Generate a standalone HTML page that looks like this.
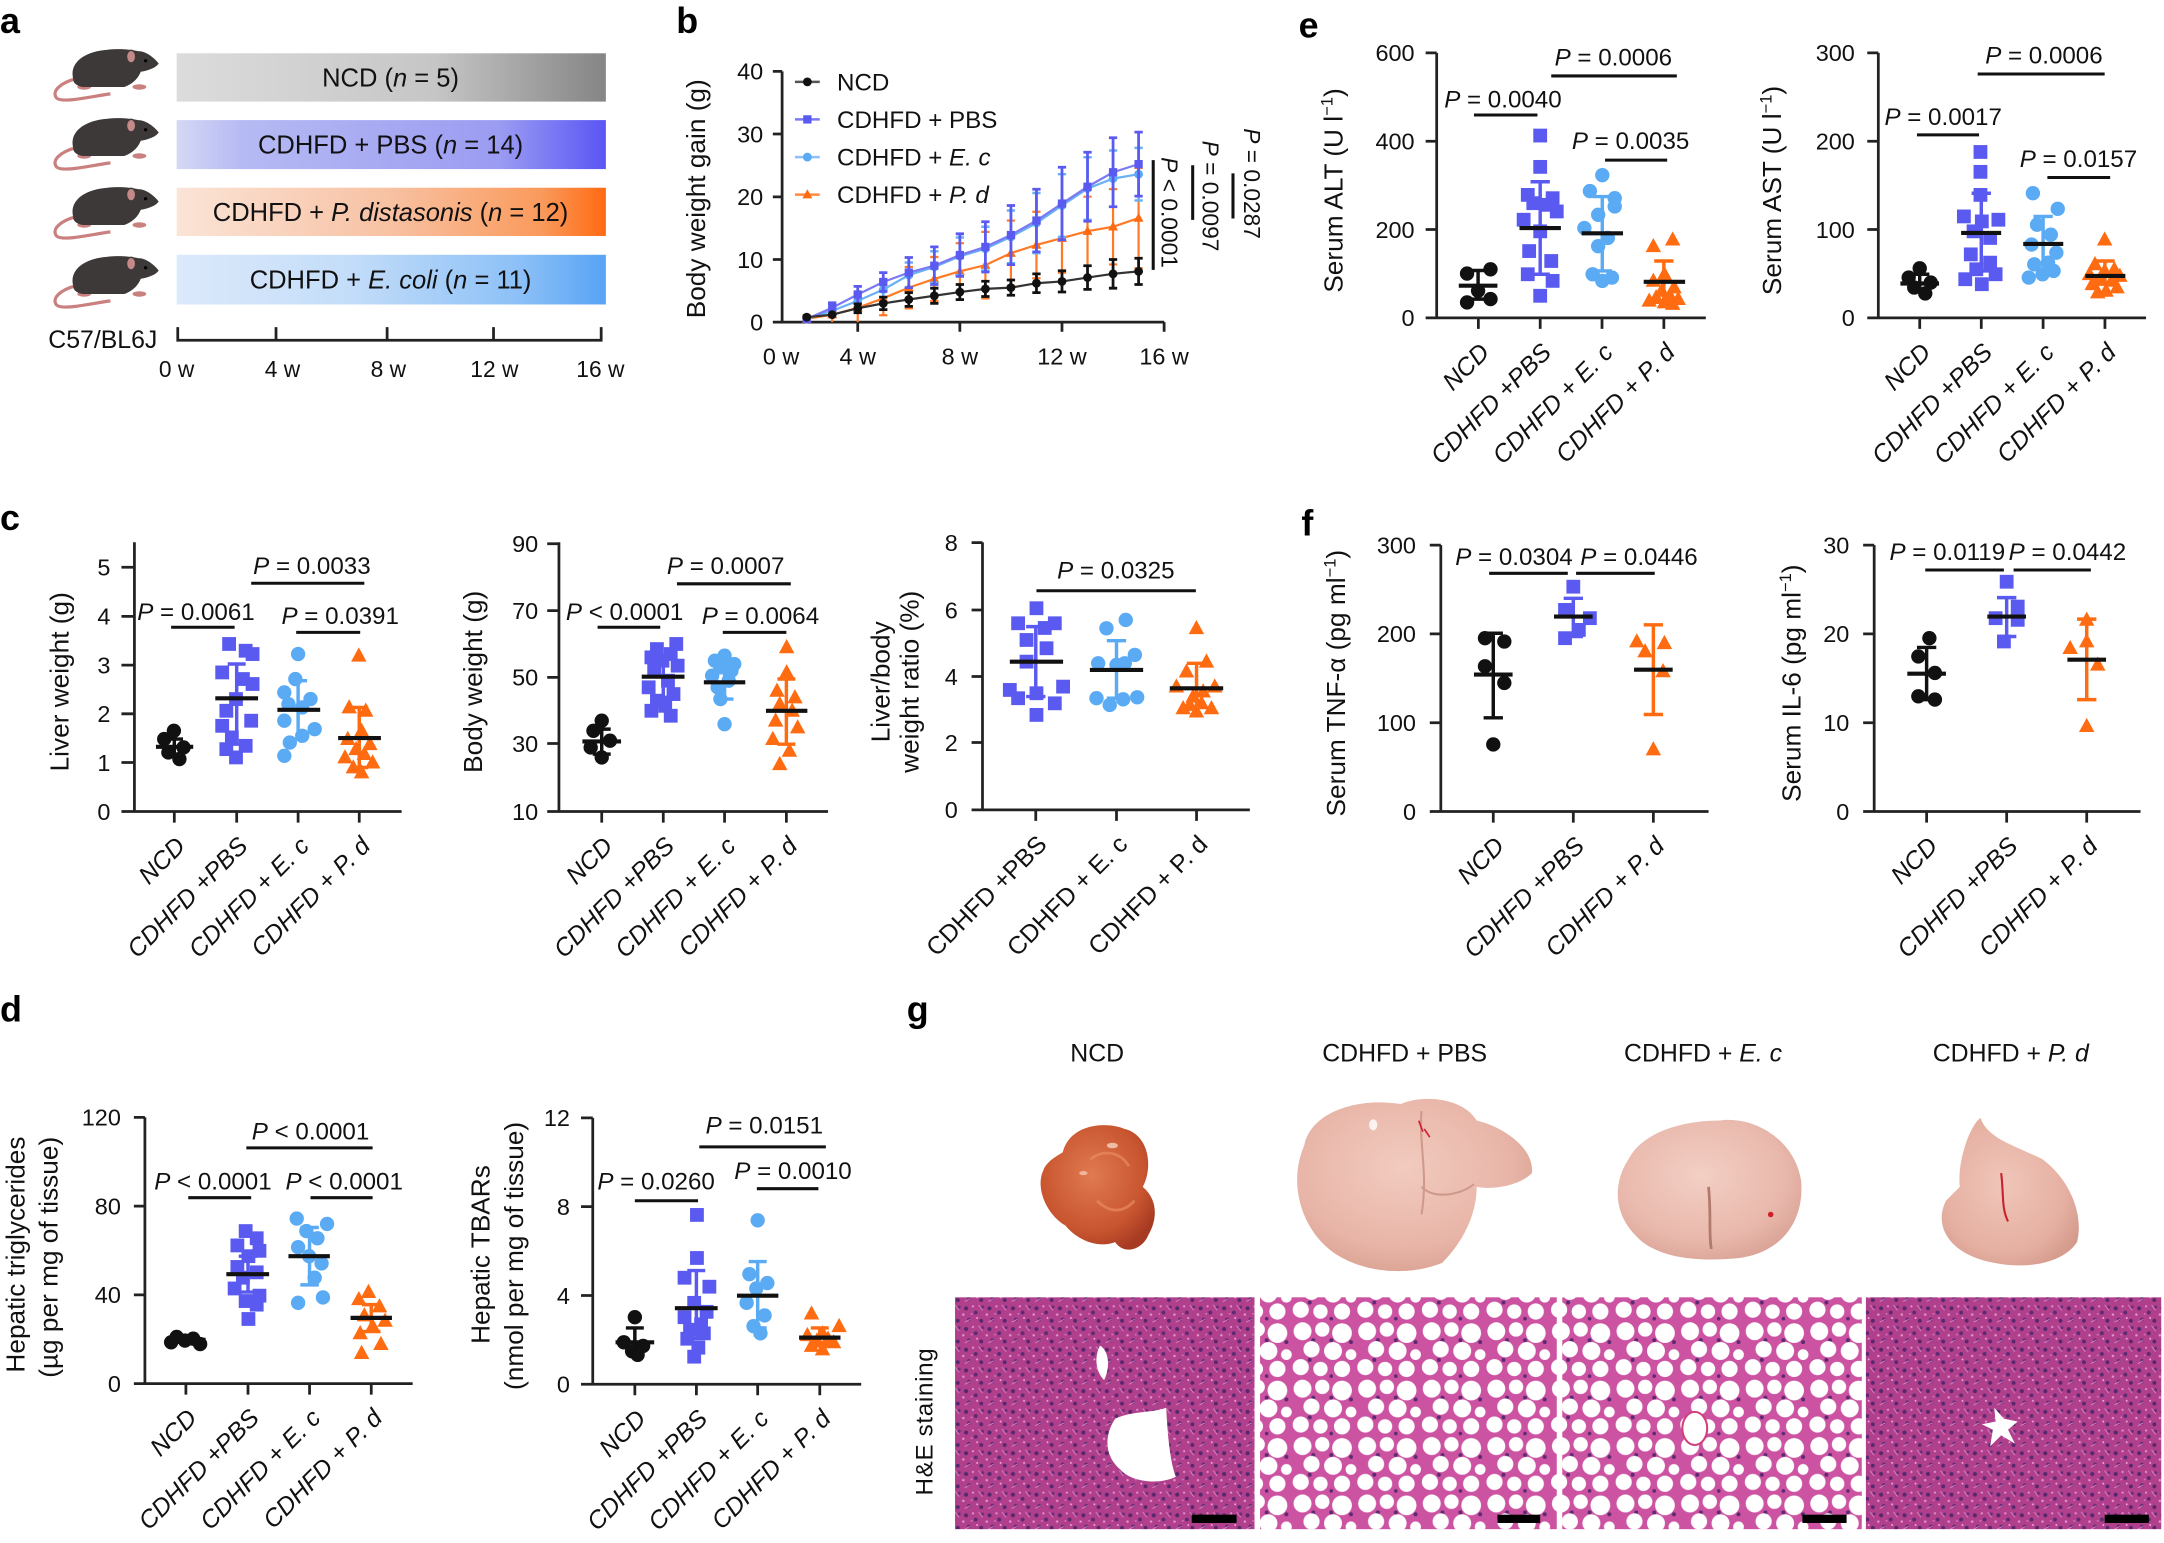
<!DOCTYPE html>
<html>
<head>
<meta charset="utf-8">
<style>
html,body{margin:0;padding:0;background:#fff;}
svg{display:block;}
text{font-family:"Liberation Sans",Arial,sans-serif;fill:#111;}
.lab{font-size:26px;font-weight:bold;fill:#000;}
.tk{font-size:17px;text-anchor:end;}
.ttl{font-size:19px;text-anchor:middle;}
.pv{font-size:17.5px;text-anchor:middle;}
.xl{font-size:18px;text-anchor:end;font-style:italic;}
.xu{font-size:18px;text-anchor:end;}
.ax{stroke:#222;stroke-width:2;fill:none;}
.sig{stroke:#111;stroke-width:2.2;fill:none;}
.mn{stroke:#111;stroke-width:3;fill:none;}
</style>
</head>
<body>
<svg width="2164" height="1543" viewBox="0 0 1568 1118" xmlns="http://www.w3.org/2000/svg" xmlns:xlink="http://www.w3.org/1999/xlink">
<defs>
<linearGradient id="gN" x1="0" x2="1" y1="0" y2="0"><stop offset="0" stop-color="#dcdcdc"/><stop offset="0.6" stop-color="#c6c6c6"/><stop offset="1" stop-color="#858585"/></linearGradient>
<linearGradient id="gP" x1="0" x2="1" y1="0" y2="0"><stop offset="0" stop-color="#d5d8f4"/><stop offset="0.15" stop-color="#b6baf3"/><stop offset="0.75" stop-color="#9b9cf2"/><stop offset="1" stop-color="#5a56f5"/></linearGradient>
<linearGradient id="gD" x1="0" x2="1" y1="0" y2="0"><stop offset="0" stop-color="#fae4d7"/><stop offset="0.5" stop-color="#f8c1a2"/><stop offset="0.85" stop-color="#fa9a5c"/><stop offset="1" stop-color="#ff6a12"/></linearGradient>
<linearGradient id="gE" x1="0" x2="1" y1="0" y2="0"><stop offset="0" stop-color="#dce9fb"/><stop offset="0.4" stop-color="#c4ddf9"/><stop offset="0.8" stop-color="#8cc0f7"/><stop offset="1" stop-color="#58a3f5"/></linearGradient>
<radialGradient id="lvN" cx="0.45" cy="0.4" r="0.65"><stop offset="0" stop-color="#e07a50"/><stop offset="0.7" stop-color="#c8552f"/><stop offset="1" stop-color="#a63a22"/></radialGradient>
<radialGradient id="lvP" cx="0.45" cy="0.4" r="0.65"><stop offset="0" stop-color="#f2cbbf"/><stop offset="0.7" stop-color="#e8b5a8"/><stop offset="1" stop-color="#d9a090"/></radialGradient>
<radialGradient id="lvE" cx="0.45" cy="0.4" r="0.65"><stop offset="0" stop-color="#f3cfc4"/><stop offset="0.7" stop-color="#e9b8ac"/><stop offset="1" stop-color="#d9a395"/></radialGradient>
<radialGradient id="lvD" cx="0.45" cy="0.45" r="0.65"><stop offset="0" stop-color="#f0c6b9"/><stop offset="0.7" stop-color="#e5b0a2"/><stop offset="1" stop-color="#d49a8b"/></radialGradient>
<pattern id="dense" width="17" height="15" patternUnits="userSpaceOnUse">
<rect width="17" height="15" fill="#b0408c"/>
<circle cx="3" cy="3" r="1.5" fill="#56276c"/>
<circle cx="10" cy="6" r="1.4" fill="#5b2a70"/>
<circle cx="5" cy="11" r="1.3" fill="#642c74"/>
<circle cx="14" cy="12" r="1.4" fill="#56276c"/>
<circle cx="15" cy="2" r="1.1" fill="#6a2f78"/>
<circle cx="8" cy="1.5" r="0.8" fill="#e690cf"/>
<circle cx="1" cy="7.5" r="0.9" fill="#e690cf"/>
<circle cx="11" cy="10" r="0.7" fill="#f0a8dc"/>
<circle cx="7" cy="7" r="0.7" fill="#d973bd"/>
<path d="M12 0.5l3 4M2 13l4-2" stroke="#e08ac8" stroke-width="0.6"/>
</pattern>
<pattern id="fat" width="36" height="32" patternUnits="userSpaceOnUse" patternTransform="scale(1.3)">
<rect width="36" height="32" fill="#cc52a2"/>
<circle cx="12" cy="11" r="1.1" fill="#5b2a70"/>
<circle cx="22" cy="11" r="1.1" fill="#5b2a70"/>
<circle cx="10" cy="22" r="1.1" fill="#5b2a70"/>
<circle cx="33" cy="12" r="1.1" fill="#5b2a70"/>
<circle cx="22" cy="31" r="1" fill="#5b2a70"/>
<g fill="#fff">
<circle cx="6" cy="6" r="5"/><circle cx="17" cy="5" r="4"/><circle cx="28" cy="7" r="5.5"/>
<circle cx="11" cy="16" r="4.5"/><circle cx="23" cy="17" r="5"/><circle cx="33" cy="19" r="3"/>
<circle cx="5" cy="26" r="4.5"/><circle cx="16" cy="27" r="4"/><circle cx="28" cy="27" r="4.5"/>
</g>
</pattern>
<rect id="S" x="-5" y="-5" width="10" height="10"/>
<circle id="C" r="5.2"/>
<path id="T" d="M0-6L5.6 4.3H-5.6Z"/>
<rect id="s" x="-3" y="-3" width="6" height="6"/>
<circle id="c" r="3.2"/>
<path id="t" d="M0-3.9L3.6 2.7H-3.6Z"/>
<g id="mouse">
<path d="M55,57 C44,60 37,66 41,71 C45,75 65,70 80,68" stroke="#c9807e" stroke-width="2.3" fill="none"/>
<ellipse cx="61" cy="63" rx="5" ry="2" fill="#c9807e"/>
<ellipse cx="101" cy="63" rx="5" ry="2" fill="#c9807e"/>
<path d="M53,57 C50,45 62,37 78,36 C88,35 95,36 100,37 C106,37 112,42 115,46 C113,49 108,51 102,52 C100,57 96,61 90,63 L60,63 C55,62 53,60 53,57 Z" fill="#3e3939"/>
<ellipse cx="95" cy="41" rx="3.3" ry="4.6" fill="#c48a88" stroke="#3e3939" stroke-width="1"/>
<circle cx="105.5" cy="44" r="1.2" fill="#000"/>
</g>
</defs>

<!-- ================= PANEL a ================= -->
<text class="lab" x="0" y="24">a</text>
<use href="#mouse" xlink:href="#mouse" x="0" y="0"/>
<use href="#mouse" xlink:href="#mouse" x="0" y="50"/>
<use href="#mouse" xlink:href="#mouse" x="0" y="100"/>
<use href="#mouse" xlink:href="#mouse" x="0" y="150"/>
<rect x="128" y="38.6" width="311" height="35" fill="url(#gN)"/>
<rect x="128" y="87" width="311" height="35.5" fill="url(#gP)"/>
<rect x="128" y="136" width="311" height="35" fill="url(#gD)"/>
<rect x="128" y="184.6" width="311" height="36" fill="url(#gE)"/>
<g style="font-size:18.5px;text-anchor:middle">
<text x="283" y="62.5">NCD (<tspan font-style="italic">n</tspan> = 5)</text>
<text x="283" y="111.3">CDHFD + PBS (<tspan font-style="italic">n</tspan> = 14)</text>
<text x="283" y="160">CDHFD + <tspan font-style="italic">P. distasonis</tspan> (<tspan font-style="italic">n</tspan> = 12)</text>
<text x="283" y="209">CDHFD + <tspan font-style="italic">E. coli</tspan> (<tspan font-style="italic">n</tspan> = 11)</text>
</g>
<text x="114" y="252" style="font-size:18px;text-anchor:end">C57/BL6J</text>
<path class="ax" d="M128.8 237V246.5H435.6V237M200 246.5V237M280.5 246.5V237M357.6 246.5V237"/>
<g style="font-size:16.5px;text-anchor:middle">
<text x="128" y="273">0 w</text><text x="204.7" y="273">4 w</text><text x="281.4" y="273">8 w</text><text x="358.2" y="273">12 w</text><text x="435" y="273">16 w</text>
</g>

<!-- ================= PANEL b ================= -->
<text class="lab" x="490" y="24">b</text>
<path class="ax" d="M566.7 51.7V233.4H843.6M560 51.7h6.7M560 97.1h6.7M560 142.6h6.7M560 188h6.7M560 233.4h6.7M621.5 233.4v7M695.5 233.4v7M769.5 233.4v7M843.5 233.4v7"/>
<text class="tk" x="553" y="57.7">40</text>
<text class="tk" x="553" y="103.1">30</text>
<text class="tk" x="553" y="148.6">20</text>
<text class="tk" x="553" y="194">10</text>
<text class="tk" x="553" y="239.4">0</text>
<g style="font-size:17px;text-anchor:middle">
<text x="566" y="264">0 w</text><text x="621.5" y="264">4 w</text><text x="695.5" y="264">8 w</text><text x="769.5" y="264">12 w</text><text x="843.5" y="264">16 w</text>
</g>
<text class="ttl" transform="translate(504,144) rotate(-90)" dy="0.35em">Body weight gain (g)</text>
<!-- P.d -->
<path stroke="#ff7a26" stroke-width="1.6" fill="none" d="M584.5 228.4V233.4M603 219.8V233.4M621.5 212.6V233.4M640 203.8V228.4M658.5 193.4V223.4M677 186.2V218M695.5 176.2V217M714 168V216.2M732.5 159.8V207M751 153.4V201.6M769.5 147.5V197.5M788 142.5V192.5M806.5 137V191.6M825 121.7V194.3M581.5 228.4h6M600 219.8h6M618.5 212.6h6M637 203.8h6M655.5 193.4h6M674 186.2h6M692.5 176.2h6M711 168h6M729.5 159.8h6M748 153.4h6M766.5 147.5h6M785 142.5h6M803.5 137h6M822 121.7h6M637 228.4h6M655.5 223.4h6M674 218h6M692.5 217h6M711 216.2h6M729.5 207h6M748 201.6h6M766.5 197.5h6M785 192.5h6M803.5 191.6h6M822 194.3h6"/>
<polyline fill="none" stroke="#ff7a26" stroke-width="1.6" points="584.5,231.1 603,228 621.5,223 640,216.1 658.5,208.4 677,202.1 695.5,196.6 714,192.1 732.5,183.4 751,177.5 769.5,172.5 788,167.5 806.5,164.3 825,158"/>
<g fill="#ff6b10"><use href="#t" xlink:href="#t" x="584.5" y="231.1"/><use href="#t" xlink:href="#t" x="603" y="228"/><use href="#t" xlink:href="#t" x="621.5" y="223"/><use href="#t" xlink:href="#t" x="640" y="216.1"/><use href="#t" xlink:href="#t" x="658.5" y="208.4"/><use href="#t" xlink:href="#t" x="677" y="202.1"/><use href="#t" xlink:href="#t" x="695.5" y="196.6"/><use href="#t" xlink:href="#t" x="714" y="192.1"/><use href="#t" xlink:href="#t" x="732.5" y="183.4"/><use href="#t" xlink:href="#t" x="751" y="177.5"/><use href="#t" xlink:href="#t" x="769.5" y="172.5"/><use href="#t" xlink:href="#t" x="788" y="167.5"/><use href="#t" xlink:href="#t" x="806.5" y="164.3"/><use href="#t" xlink:href="#t" x="825" y="158"/></g>
<!-- E.c -->
<path stroke="#6ab0f5" stroke-width="1.8" fill="none" d="M584.5 229.3V232.9M603 222V228.4M621.5 212.5V223.5M640 203V216.6M658.5 190.2V208.4M677 182V204.8M695.5 172.1V199.3M714 164.3V196.1M732.5 152.5V190.7M751 139.8V183.4M769.5 126.2V171.6M788 113.9V159.3M806.5 109V149.8M825 107.1V145.3M618.5 212.5h6M637 203h6M655.5 190.2h6M674 182h6M692.5 172.1h6M711 164.3h6M729.5 152.5h6M748 139.8h6M766.5 126.2h6M785 113.9h6M803.5 109h6M822 107.1h6M655.5 208.4h6M674 204.8h6M692.5 199.3h6M711 196.1h6M729.5 190.7h6M748 183.4h6M766.5 171.6h6M785 159.3h6M803.5 149.8h6M822 145.3h6"/>
<polyline fill="none" stroke="#6ab0f5" stroke-width="1.6" points="584.5,231.1 603,225.2 621.5,218 640,209.8 658.5,199.3 677,193.4 695.5,185.7 714,180.2 732.5,171.6 751,161.6 769.5,148.9 788,136.6 806.5,129.4 825,126.2"/>
<g fill="#5aaaf4"><use href="#c" xlink:href="#c" x="584.5" y="231.1"/><use href="#c" xlink:href="#c" x="603" y="225.2"/><use href="#c" xlink:href="#c" x="621.5" y="218"/><use href="#c" xlink:href="#c" x="640" y="209.8"/><use href="#c" xlink:href="#c" x="658.5" y="199.3"/><use href="#c" xlink:href="#c" x="677" y="193.4"/><use href="#c" xlink:href="#c" x="695.5" y="185.7"/><use href="#c" xlink:href="#c" x="714" y="180.2"/><use href="#c" xlink:href="#c" x="732.5" y="171.6"/><use href="#c" xlink:href="#c" x="751" y="161.6"/><use href="#c" xlink:href="#c" x="769.5" y="148.9"/><use href="#c" xlink:href="#c" x="788" y="136.6"/><use href="#c" xlink:href="#c" x="806.5" y="129.4"/><use href="#c" xlink:href="#c" x="825" y="126.2"/></g>
<!-- PBS -->
<path stroke="#5a5af0" stroke-width="2" fill="none" d="M584.5 229.3V232.9M603 219.4V226.6M621.5 207.5V219.3M640 197.5V211.1M658.5 186.6V208.4M677 178.9V206.1M695.5 169.4V200.2M714 160.7V197.1M732.5 148.9V191.7M751 137.1V182.5M769.5 121.2V173.8M788 110.3V160.3M806.5 99.8V149.8M825 95.7V142.1M600 219.4h6M618.5 207.5h6M637 197.5h6M655.5 186.6h6M674 178.9h6M692.5 169.4h6M711 160.7h6M729.5 148.9h6M748 137.1h6M766.5 121.2h6M785 110.3h6M803.5 99.8h6M822 95.7h6M637 211.1h6M655.5 208.4h6M674 206.1h6M692.5 200.2h6M711 197.1h6M729.5 191.7h6M748 182.5h6M766.5 173.8h6M785 160.3h6M803.5 149.8h6M822 142.1h6"/>
<polyline fill="none" stroke="#7a7af2" stroke-width="1.6" points="584.5,231.1 603,223 621.5,213.4 640,204.3 658.5,197.5 677,192.5 695.5,184.8 714,178.9 732.5,170.3 751,159.8 769.5,147.5 788,135.3 806.5,124.8 825,118.9"/>
<g fill="#5a5af0"><use href="#s" xlink:href="#s" x="584.5" y="231.1"/><use href="#s" xlink:href="#s" x="603" y="223"/><use href="#s" xlink:href="#s" x="621.5" y="213.4"/><use href="#s" xlink:href="#s" x="640" y="204.3"/><use href="#s" xlink:href="#s" x="658.5" y="197.5"/><use href="#s" xlink:href="#s" x="677" y="192.5"/><use href="#s" xlink:href="#s" x="695.5" y="184.8"/><use href="#s" xlink:href="#s" x="714" y="178.9"/><use href="#s" xlink:href="#s" x="732.5" y="170.3"/><use href="#s" xlink:href="#s" x="751" y="159.8"/><use href="#s" xlink:href="#s" x="769.5" y="147.5"/><use href="#s" xlink:href="#s" x="788" y="135.3"/><use href="#s" xlink:href="#s" x="806.5" y="124.8"/><use href="#s" xlink:href="#s" x="825" y="118.9"/></g>
<!-- NCD -->
<path stroke="#111" stroke-width="2" fill="none" d="M584.5 228.4V231.2M603 225.7V230.3M621.5 220.2V226.6M640 215.3V224.3M658.5 212V222M677 208.8V219.8M695.5 206.1V217.1M714 203.8V214.8M732.5 202.9V213.9M751 198.4V212M769.5 196.2V211.6M788 192.5V209.7M806.5 188V208.8M825 187.1V206.1M618.5 220.2h6M637 215.3h6M655.5 212h6M674 208.8h6M692.5 206.1h6M711 203.8h6M729.5 202.9h6M748 198.4h6M766.5 196.2h6M785 192.5h6M803.5 188h6M822 187.1h6M618.5 226.6h6M637 224.3h6M655.5 222h6M674 219.8h6M692.5 217.1h6M711 214.8h6M729.5 213.9h6M748 212h6M766.5 211.6h6M785 209.7h6M803.5 208.8h6M822 206.1h6"/>
<polyline fill="none" stroke="#333" stroke-width="1.6" points="584.5,229.8 603,228 621.5,223.4 640,219.8 658.5,217 677,214.3 695.5,211.6 714,209.3 732.5,208.4 751,205.2 769.5,203.9 788,201.1 806.5,198.4 825,196.6"/>
<g fill="#111"><use href="#c" xlink:href="#c" x="584.5" y="229.8"/><use href="#c" xlink:href="#c" x="603" y="228"/><use href="#c" xlink:href="#c" x="621.5" y="223.4"/><use href="#c" xlink:href="#c" x="640" y="219.8"/><use href="#c" xlink:href="#c" x="658.5" y="217"/><use href="#c" xlink:href="#c" x="677" y="214.3"/><use href="#c" xlink:href="#c" x="695.5" y="211.6"/><use href="#c" xlink:href="#c" x="714" y="209.3"/><use href="#c" xlink:href="#c" x="732.5" y="208.4"/><use href="#c" xlink:href="#c" x="751" y="205.2"/><use href="#c" xlink:href="#c" x="769.5" y="203.9"/><use href="#c" xlink:href="#c" x="788" y="201.1"/><use href="#c" xlink:href="#c" x="806.5" y="198.4"/><use href="#c" xlink:href="#c" x="825" y="196.6"/></g>
<!-- legend -->
<path stroke="#555" stroke-width="1.8" d="M576 59.3h18"/><use href="#c" xlink:href="#c" x="585" y="59.3" fill="#111"/>
<path stroke="#7a7af2" stroke-width="1.8" d="M576 86.5h18"/><use href="#s" xlink:href="#s" x="585" y="86.5" fill="#5a5af0"/>
<path stroke="#8cc0f7" stroke-width="1.8" d="M576 113.8h18"/><use href="#c" xlink:href="#c" x="585" y="113.8" fill="#5aaaf4"/>
<path stroke="#ff8a40" stroke-width="1.8" d="M576 141h18"/><use href="#t" xlink:href="#t" x="585" y="141" fill="#ff6b10"/>
<g style="font-size:17.5px">
<text x="606.5" y="65.5">NCD</text>
<text x="606.5" y="92.7">CDHFD + PBS</text>
<text x="606.5" y="120">CDHFD + <tspan font-style="italic">E. c</tspan></text>
<text x="606.5" y="147.2">CDHFD + <tspan font-style="italic">P. d</tspan></text>
</g>
<path class="sig" d="M835.6 116V195.5M864.2 119.7V159.3M893.4 125.6V158.3"/>
<g style="font-size:16.5px;text-anchor:middle">
<text transform="translate(847.3,154) rotate(90)" dy="0.35em"><tspan font-style="italic">P</tspan> &lt; 0.0001</text>
<text transform="translate(877,142) rotate(90)" dy="0.35em"><tspan font-style="italic">P</tspan> = 0.0097</text>
<text transform="translate(907,133) rotate(90)" dy="0.35em"><tspan font-style="italic">P</tspan> = 0.0287</text>
</g>

<!-- ================= PANEL e ================= -->
<text class="lab" x="941" y="27">e</text>
<!-- ALT -->
<path class="ax" d="M1041 38.3V230.3M1033 230.3H1236M1033 38.3h8M1033 102.3h8M1033 166.3h8M1071.2 230.3v8M1116 230.3v8M1160.8 230.3v8M1205.6 230.3v8"/>
<text class="tk" x="1025" y="44.3">600</text><text class="tk" x="1025" y="108.3">400</text><text class="tk" x="1025" y="172.3">200</text><text class="tk" x="1025" y="236.3">0</text>
<text class="ttl" transform="translate(966,138) rotate(-90)" dy="0.35em">Serum ALT (U l<tspan dy="-7" font-size="12">−1</tspan><tspan dy="7">)</tspan></text>
<g fill="#111"><use href="#C" xlink:href="#C" x="1080" y="195.1"/><use href="#C" xlink:href="#C" x="1063" y="198.2"/><use href="#C" xlink:href="#C" x="1071" y="210.7"/><use href="#C" xlink:href="#C" x="1080" y="216.7"/><use href="#C" xlink:href="#C" x="1063" y="219.1"/></g>
<g fill="#5a5af0"><use href="#S" xlink:href="#S" x="1116" y="98.2"/><use href="#S" xlink:href="#S" x="1116" y="120.9"/><use href="#S" xlink:href="#S" x="1107" y="141.2"/><use href="#S" xlink:href="#S" x="1125" y="143.6"/><use href="#S" xlink:href="#S" x="1111" y="147.2"/><use href="#S" xlink:href="#S" x="1121" y="148.4"/><use href="#S" xlink:href="#S" x="1128" y="153.2"/><use href="#S" xlink:href="#S" x="1104" y="159.2"/><use href="#S" xlink:href="#S" x="1116" y="167.6"/><use href="#S" xlink:href="#S" x="1108" y="181.9"/><use href="#S" xlink:href="#S" x="1124" y="189.1"/><use href="#S" xlink:href="#S" x="1107" y="198.7"/><use href="#S" xlink:href="#S" x="1125" y="203.5"/><use href="#S" xlink:href="#S" x="1116" y="214.3"/></g>
<g fill="#5aaaf4"><use href="#C" xlink:href="#C" x="1161" y="126.9"/><use href="#C" xlink:href="#C" x="1152" y="138.4"/><use href="#C" xlink:href="#C" x="1170" y="143.6"/><use href="#C" xlink:href="#C" x="1170" y="149.6"/><use href="#C" xlink:href="#C" x="1158" y="155.6"/><use href="#C" xlink:href="#C" x="1148" y="165.2"/><use href="#C" xlink:href="#C" x="1165" y="172.4"/><use href="#C" xlink:href="#C" x="1158" y="178.4"/><use href="#C" xlink:href="#C" x="1154" y="198.7"/><use href="#C" xlink:href="#C" x="1168" y="201.1"/><use href="#C" xlink:href="#C" x="1161" y="203.5"/></g>
<g fill="#ff6b10"><use href="#T" xlink:href="#T" x="1212" y="173.6"/><use href="#T" xlink:href="#T" x="1198" y="178.4"/><use href="#T" xlink:href="#T" x="1206" y="198.7"/><use href="#T" xlink:href="#T" x="1198" y="203.5"/><use href="#T" xlink:href="#T" x="1213" y="208.3"/><use href="#T" xlink:href="#T" x="1204" y="210.7"/><use href="#T" xlink:href="#T" x="1210" y="214.3"/><use href="#T" xlink:href="#T" x="1200" y="215.5"/><use href="#T" xlink:href="#T" x="1216" y="216.7"/><use href="#T" xlink:href="#T" x="1195" y="217.9"/><use href="#T" xlink:href="#T" x="1206" y="219.1"/><use href="#T" xlink:href="#T" x="1212" y="220.2"/></g>
<path stroke="#111" stroke-width="2.5" fill="none" d="M1071 196V216.7M1064 196h14M1064 216.7h14"/>
<path stroke="#5a5af0" stroke-width="2.5" fill="none" d="M1116 131.7V198.7M1109 131.7h14M1109 198.7h14"/>
<path stroke="#5aaaf4" stroke-width="2.5" fill="none" d="M1161 142.4V196.3M1154 142.4h14M1154 196.3h14"/>
<path stroke="#ff6b10" stroke-width="2.5" fill="none" d="M1205.6 189.1V219M1198.6 189.1h14M1198.6 219h14"/>
<path class="mn" d="M1057 207h28M1101 165.2h30M1146 169h30M1191 204.2h30"/>
<path class="sig" d="M1068 83.3H1114M1124 55H1215M1163 116H1208"/>
<text class="pv" x="1089" y="77.8"><tspan font-style="italic">P</tspan> = 0.0040</text>
<text class="pv" x="1169" y="47.4"><tspan font-style="italic">P</tspan> = 0.0006</text>
<text class="pv" x="1181.5" y="108"><tspan font-style="italic">P</tspan> = 0.0035</text>
<g><text class="xl" transform="translate(1080.2,256.3) rotate(-45)">NCD</text>
<text class="xl" transform="translate(1125,256.3) rotate(-45)">CDHFD +PBS</text>
<text class="xl" transform="translate(1169.8,256.3) rotate(-45)">CDHFD + E. c</text>
<text class="xl" transform="translate(1214.6,256.3) rotate(-45)">CDHFD + P. d</text></g>
<!-- AST -->
<path class="ax" d="M1361 38.3V230.3M1353 230.3H1555M1353 38.3h8M1353 102.3h8M1353 166.3h8M1391 230.3v8M1435.6 230.3v8M1480.4 230.3v8M1525.2 230.3v8"/>
<text class="tk" x="1344" y="44.3">300</text><text class="tk" x="1344" y="108.3">200</text><text class="tk" x="1344" y="172.3">100</text><text class="tk" x="1344" y="236.3">0</text>
<text class="ttl" transform="translate(1284,138) rotate(-90)" dy="0.35em">Serum AST (U l<tspan dy="-7" font-size="12">−1</tspan><tspan dy="7">)</tspan></text>
<g fill="#111"><use href="#C" xlink:href="#C" x="1391" y="194.4"/><use href="#C" xlink:href="#C" x="1383" y="201.1"/><use href="#C" xlink:href="#C" x="1399" y="204.7"/><use href="#C" xlink:href="#C" x="1387" y="208.3"/><use href="#C" xlink:href="#C" x="1395" y="212.6"/></g>
<g fill="#5a5af0"><use href="#S" xlink:href="#S" x="1435" y="110.1"/><use href="#S" xlink:href="#S" x="1435" y="124.5"/><use href="#S" xlink:href="#S" x="1435" y="141.2"/><use href="#S" xlink:href="#S" x="1423" y="156.8"/><use href="#S" xlink:href="#S" x="1448" y="159.2"/><use href="#S" xlink:href="#S" x="1436" y="160.4"/><use href="#S" xlink:href="#S" x="1430" y="167.6"/><use href="#S" xlink:href="#S" x="1442" y="172.4"/><use href="#S" xlink:href="#S" x="1428" y="184.3"/><use href="#S" xlink:href="#S" x="1442" y="190.3"/><use href="#S" xlink:href="#S" x="1432" y="195.1"/><use href="#S" xlink:href="#S" x="1446" y="198.7"/><use href="#S" xlink:href="#S" x="1424" y="202.3"/><use href="#S" xlink:href="#S" x="1436" y="205.9"/></g>
<g fill="#5aaaf4"><use href="#C" xlink:href="#C" x="1473" y="140"/><use href="#C" xlink:href="#C" x="1491" y="151.3"/><use href="#C" xlink:href="#C" x="1476" y="162.8"/><use href="#C" xlink:href="#C" x="1486" y="170"/><use href="#C" xlink:href="#C" x="1472" y="177.2"/><use href="#C" xlink:href="#C" x="1490" y="183.1"/><use href="#C" xlink:href="#C" x="1474" y="191.5"/><use href="#C" xlink:href="#C" x="1488" y="196.3"/><use href="#C" xlink:href="#C" x="1480" y="198.7"/><use href="#C" xlink:href="#C" x="1470" y="201.1"/><use href="#C" xlink:href="#C" x="1484" y="190.3"/></g>
<g fill="#ff6b10"><use href="#T" xlink:href="#T" x="1525" y="173.6"/><use href="#T" xlink:href="#T" x="1518" y="191.5"/><use href="#T" xlink:href="#T" x="1532" y="195.1"/><use href="#T" xlink:href="#T" x="1525" y="196.3"/><use href="#T" xlink:href="#T" x="1514" y="198.7"/><use href="#T" xlink:href="#T" x="1536" y="199.9"/><use href="#T" xlink:href="#T" x="1522" y="201.1"/><use href="#T" xlink:href="#T" x="1530" y="203.5"/><use href="#T" xlink:href="#T" x="1516" y="205.9"/><use href="#T" xlink:href="#T" x="1534" y="208.3"/><use href="#T" xlink:href="#T" x="1526" y="210.7"/><use href="#T" xlink:href="#T" x="1520" y="211.9"/></g>
<path stroke="#111" stroke-width="2.5" fill="none" d="M1391 198.7V210.7M1384 198.7h14M1384 210.7h14"/>
<path stroke="#5a5af0" stroke-width="2.5" fill="none" d="M1435.6 140V196.3M1428.6 140h14M1428.6 196.3h14"/>
<path stroke="#5aaaf4" stroke-width="2.5" fill="none" d="M1480.4 156.8V195.1M1473.4 156.8h14M1473.4 195.1h14"/>
<path stroke="#ff6b10" stroke-width="2.5" fill="none" d="M1525.2 189.1V205.9M1518.2 189.1h14M1518.2 205.9h14"/>
<path class="mn" d="M1377 205.4h28M1421 168.8h29M1466 176.7h29M1511 199.9h29"/>
<path class="sig" d="M1433 53.6H1525M1389 97.7H1434M1483.5 128.6H1529"/>
<text class="pv" x="1481" y="46"><tspan font-style="italic">P</tspan> = 0.0006</text>
<text class="pv" x="1408" y="90.5"><tspan font-style="italic">P</tspan> = 0.0017</text>
<text class="pv" x="1506" y="121"><tspan font-style="italic">P</tspan> = 0.0157</text>
<g><text class="xl" transform="translate(1400,256.3) rotate(-45)">NCD</text>
<text class="xl" transform="translate(1444.6,256.3) rotate(-45)">CDHFD +PBS</text>
<text class="xl" transform="translate(1489.4,256.3) rotate(-45)">CDHFD + E. c</text>
<text class="xl" transform="translate(1534.2,256.3) rotate(-45)">CDHFD + P. d</text></g>

<!-- ================= PANEL c ================= -->
<text class="lab" x="0" y="384">c</text>
<!-- Liver weight -->
<path class="ax" d="M97.4 392.9V588M88 588H291M88 411h9.4M88 446.6h9.4M88 481.9h9.4M88 517.2h9.4M88 552.5h9.4M126.3 588v8M171.5 588v8M216 588v8M260.3 588v8"/>
<text class="tk" x="80" y="417">5</text><text class="tk" x="80" y="452.6">4</text><text class="tk" x="80" y="487.9">3</text><text class="tk" x="80" y="523.2">2</text><text class="tk" x="80" y="558.5">1</text><text class="tk" x="80" y="594">0</text>
<text class="ttl" transform="translate(43,494) rotate(-90)" dy="0.35em">Liver weight (g)</text>
<g fill="#111"><use href="#C" xlink:href="#C" x="126" y="529.5"/><use href="#C" xlink:href="#C" x="119" y="535.5"/><use href="#C" xlink:href="#C" x="133" y="541.6"/><use href="#C" xlink:href="#C" x="122" y="545.2"/><use href="#C" xlink:href="#C" x="130" y="550"/></g>
<g fill="#5a5af0"><use href="#S" xlink:href="#S" x="166" y="466.6"/><use href="#S" xlink:href="#S" x="178" y="471.5"/><use href="#S" xlink:href="#S" x="183" y="473.9"/><use href="#S" xlink:href="#S" x="161" y="487.2"/><use href="#S" xlink:href="#S" x="176" y="492"/><use href="#S" xlink:href="#S" x="183" y="495.6"/><use href="#S" xlink:href="#S" x="171" y="506.5"/><use href="#S" xlink:href="#S" x="164" y="515"/><use href="#S" xlink:href="#S" x="182" y="522.2"/><use href="#S" xlink:href="#S" x="161" y="525.9"/><use href="#S" xlink:href="#S" x="168" y="534.3"/><use href="#S" xlink:href="#S" x="178" y="540.4"/><use href="#S" xlink:href="#S" x="164" y="542.8"/><use href="#S" xlink:href="#S" x="171" y="548.8"/></g>
<g fill="#5aaaf4"><use href="#C" xlink:href="#C" x="216" y="473.9"/><use href="#C" xlink:href="#C" x="214" y="492"/><use href="#C" xlink:href="#C" x="206" y="501.7"/><use href="#C" xlink:href="#C" x="225" y="506.5"/><use href="#C" xlink:href="#C" x="209" y="510.2"/><use href="#C" xlink:href="#C" x="219" y="512.6"/><use href="#C" xlink:href="#C" x="206" y="522.2"/><use href="#C" xlink:href="#C" x="228" y="528.3"/><use href="#C" xlink:href="#C" x="219" y="533.1"/><use href="#C" xlink:href="#C" x="210" y="538"/><use href="#C" xlink:href="#C" x="206" y="547.6"/></g>
<g fill="#ff6b10"><use href="#T" xlink:href="#T" x="260" y="475.1"/><use href="#T" xlink:href="#T" x="253" y="512.6"/><use href="#T" xlink:href="#T" x="265" y="515"/><use href="#T" xlink:href="#T" x="262" y="529.5"/><use href="#T" xlink:href="#T" x="252" y="535.5"/><use href="#T" xlink:href="#T" x="268" y="539.2"/><use href="#T" xlink:href="#T" x="258" y="542.8"/><use href="#T" xlink:href="#T" x="264" y="546.4"/><use href="#T" xlink:href="#T" x="250" y="548.8"/><use href="#T" xlink:href="#T" x="270" y="552.5"/><use href="#T" xlink:href="#T" x="256" y="556.1"/><use href="#T" xlink:href="#T" x="262" y="559.7"/></g>
<path stroke="#111" stroke-width="2.5" fill="none" d="M126.3 535.5V546.4M120 535.5h12.6M120 546.4h12.6"/>
<path stroke="#5a5af0" stroke-width="2.5" fill="none" d="M171.5 481.1V539.2M165 481.1h13M165 539.2h13"/>
<path stroke="#5aaaf4" stroke-width="2.5" fill="none" d="M216 493.2V535.5M209.5 493.2h13M209.5 535.5h13"/>
<path stroke="#ff6b10" stroke-width="2.5" fill="none" d="M260.3 512.6V556.1M253.8 512.6h13M253.8 556.1h13"/>
<path class="mn" d="M113 541.1h27M156 506h31M201 514.3h31M245 534.8h31"/>
<path class="sig" d="M182 422.6H264M124 454.5H170M214.6 458.2H261"/>
<text class="pv" x="226" y="415.9"><tspan font-style="italic">P</tspan> = 0.0033</text>
<text class="pv" x="142" y="449.2"><tspan font-style="italic">P</tspan> = 0.0061</text>
<text class="pv" x="246.5" y="452"><tspan font-style="italic">P</tspan> = 0.0391</text>
<g><text class="xl" transform="translate(135.3,614) rotate(-45)">NCD</text>
<text class="xl" transform="translate(180.5,614) rotate(-45)">CDHFD +PBS</text>
<text class="xl" transform="translate(225,614) rotate(-45)">CDHFD + E. c</text>
<text class="xl" transform="translate(269.3,614) rotate(-45)">CDHFD + P. d</text></g>
<!-- Body weight -->
<path class="ax" d="M405 392.9V588M396.5 588H600M396.5 394h8.5M396.5 442.4h8.5M396.5 490.8h8.5M396.5 538.7h8.5M436 588v8M480.6 588v8M525 588v8M569.8 588v8"/>
<text class="tk" x="390" y="400">90</text><text class="tk" x="390" y="448.4">70</text><text class="tk" x="390" y="496.8">50</text><text class="tk" x="390" y="544.7">30</text><text class="tk" x="390" y="594">10</text>
<text class="ttl" transform="translate(342.6,494) rotate(-90)" dy="0.35em">Body weight (g)</text>
<g fill="#111"><use href="#C" xlink:href="#C" x="436" y="522.2"/><use href="#C" xlink:href="#C" x="430" y="529.5"/><use href="#C" xlink:href="#C" x="442" y="536.7"/><use href="#C" xlink:href="#C" x="428" y="541.6"/><use href="#C" xlink:href="#C" x="436" y="548.8"/></g>
<g fill="#5a5af0"><use href="#S" xlink:href="#S" x="490" y="466.6"/><use href="#S" xlink:href="#S" x="476" y="470.3"/><use href="#S" xlink:href="#S" x="486" y="473.9"/><use href="#S" xlink:href="#S" x="472" y="476.3"/><use href="#S" xlink:href="#S" x="480" y="478.7"/><use href="#S" xlink:href="#S" x="491" y="482.3"/><use href="#S" xlink:href="#S" x="474" y="486"/><use href="#S" xlink:href="#S" x="484" y="493.2"/><use href="#S" xlink:href="#S" x="470" y="498"/><use href="#S" xlink:href="#S" x="488" y="502.9"/><use href="#S" xlink:href="#S" x="476" y="507.7"/><use href="#S" xlink:href="#S" x="482" y="511.4"/><use href="#S" xlink:href="#S" x="472" y="515"/><use href="#S" xlink:href="#S" x="486" y="518.6"/></g>
<g fill="#5aaaf4"><use href="#C" xlink:href="#C" x="525" y="475.1"/><use href="#C" xlink:href="#C" x="518" y="478.7"/><use href="#C" xlink:href="#C" x="532" y="481.1"/><use href="#C" xlink:href="#C" x="522" y="483.5"/><use href="#C" xlink:href="#C" x="530" y="486"/><use href="#C" xlink:href="#C" x="516" y="489.6"/><use href="#C" xlink:href="#C" x="528" y="493.2"/><use href="#C" xlink:href="#C" x="520" y="498"/><use href="#C" xlink:href="#C" x="522" y="506.5"/><use href="#C" xlink:href="#C" x="525" y="524.7"/></g>
<g fill="#ff6b10"><use href="#T" xlink:href="#T" x="570" y="469"/><use href="#T" xlink:href="#T" x="570" y="487.2"/><use href="#T" xlink:href="#T" x="563" y="500.5"/><use href="#T" xlink:href="#T" x="576" y="505.3"/><use href="#T" xlink:href="#T" x="565" y="510.2"/><use href="#T" xlink:href="#T" x="574" y="515"/><use href="#T" xlink:href="#T" x="562" y="522.2"/><use href="#T" xlink:href="#T" x="578" y="527.1"/><use href="#T" xlink:href="#T" x="560" y="535.5"/><use href="#T" xlink:href="#T" x="572" y="544"/><use href="#T" xlink:href="#T" x="565" y="553.7"/></g>
<path stroke="#111" stroke-width="2.5" fill="none" d="M436 528.3V546.4M429.5 528.3h13M429.5 546.4h13"/>
<path stroke="#5a5af0" stroke-width="2.5" fill="none" d="M480.6 476.3V505.3M474 476.3h13M474 505.3h13"/>
<path stroke="#5aaaf4" stroke-width="2.5" fill="none" d="M525 481.1V506.5M518.5 481.1h13M518.5 506.5h13"/>
<path stroke="#ff6b10" stroke-width="2.5" fill="none" d="M569.8 492V539.2M563.3 492h13M563.3 539.2h13"/>
<path class="mn" d="M422 537.2h28M465 490.3h31M510 494.4h30M555 515h30"/>
<path class="sig" d="M490.5 423H573M433 454.5H478.4M523.7 458.2H569.8"/>
<text class="pv" x="525.8" y="415.9"><tspan font-style="italic">P</tspan> = 0.0007</text>
<text class="pv" x="452.6" y="449.2"><tspan font-style="italic">P</tspan> &lt; 0.0001</text>
<text class="pv" x="551" y="452"><tspan font-style="italic">P</tspan> = 0.0064</text>
<g><text class="xl" transform="translate(445,614) rotate(-45)">NCD</text>
<text class="xl" transform="translate(489.6,614) rotate(-45)">CDHFD +PBS</text>
<text class="xl" transform="translate(534,614) rotate(-45)">CDHFD + E. c</text>
<text class="xl" transform="translate(578.8,614) rotate(-45)">CDHFD + P. d</text></g>
<!-- Ratio -->
<path class="ax" d="M711.9 393V586.8M704 586.8H905.6M704 393.2h7.9M704 442h7.9M704 490.2h7.9M704 538h7.9M750.5 586.8v8M809 586.8v8M867 586.8v8"/>
<text class="tk" x="694" y="399.2">8</text><text class="tk" x="694" y="448">6</text><text class="tk" x="694" y="496.2">4</text><text class="tk" x="694" y="544">2</text><text class="tk" x="694" y="592.8">0</text>
<text class="ttl" transform="translate(638,494) rotate(-90)" dy="0.35em">Liver/body</text>
<text class="ttl" transform="translate(659,494) rotate(-90)" dy="0.35em">weight ratio (%)</text>
<g fill="#5a5af0"><use href="#S" xlink:href="#S" x="751" y="440.7"/><use href="#S" xlink:href="#S" x="737.7" y="451.6"/><use href="#S" xlink:href="#S" x="764.3" y="451.6"/><use href="#S" xlink:href="#S" x="757" y="455"/><use href="#S" xlink:href="#S" x="743.8" y="463.7"/><use href="#S" xlink:href="#S" x="758.3" y="469.7"/><use href="#S" xlink:href="#S" x="743.8" y="479.4"/><use href="#S" xlink:href="#S" x="770.3" y="497.5"/><use href="#S" xlink:href="#S" x="731.7" y="499.9"/><use href="#S" xlink:href="#S" x="751" y="502.3"/><use href="#S" xlink:href="#S" x="737.7" y="505.9"/><use href="#S" xlink:href="#S" x="764.3" y="509.6"/><use href="#S" xlink:href="#S" x="751" y="518"/></g>
<g fill="#5aaaf4"><use href="#C" xlink:href="#C" x="815.7" y="449.2"/><use href="#C" xlink:href="#C" x="801.7" y="455.2"/><use href="#C" xlink:href="#C" x="822.3" y="474.5"/><use href="#C" xlink:href="#C" x="795.7" y="480.6"/><use href="#C" xlink:href="#C" x="809" y="481.8"/><use href="#C" xlink:href="#C" x="815" y="480.6"/><use href="#C" xlink:href="#C" x="794.5" y="505.9"/><use href="#C" xlink:href="#C" x="804.1" y="510.8"/><use href="#C" xlink:href="#C" x="813.8" y="506.7"/><use href="#C" xlink:href="#C" x="824" y="505.2"/></g>
<g fill="#ff6b10"><use href="#T" xlink:href="#T" x="866.9" y="455.2"/><use href="#T" xlink:href="#T" x="874.2" y="479.4"/><use href="#T" xlink:href="#T" x="859.7" y="486.6"/><use href="#T" xlink:href="#T" x="852.4" y="497.5"/><use href="#T" xlink:href="#T" x="880.2" y="497.5"/><use href="#T" xlink:href="#T" x="862.1" y="510.8"/><use href="#T" xlink:href="#T" x="870.6" y="509.6"/><use href="#T" xlink:href="#T" x="857.3" y="513.2"/><use href="#T" xlink:href="#T" x="877.8" y="513.2"/><use href="#T" xlink:href="#T" x="866.9" y="515.6"/><use href="#T" xlink:href="#T" x="864.5" y="504.7"/><use href="#T" xlink:href="#T" x="871.8" y="501.1"/></g>
<path stroke="#5a5af0" stroke-width="2.5" fill="none" d="M750.5 454V504.7M743.5 454h14M743.5 504.7h14"/>
<path stroke="#5aaaf4" stroke-width="2.5" fill="none" d="M809 464.2V505.9M802 464.2h14M802 505.9h14"/>
<path stroke="#ff6b10" stroke-width="2.5" fill="none" d="M867 480.6V512M860 480.6h14M860 512h14"/>
<path class="mn" d="M731.7 479.4H770.3M789.7 485.4H828.3M847.6 498.7H886.3"/>
<path class="sig" d="M751 428H866.5"/>
<text class="pv" x="808.5" y="419"><tspan font-style="italic">P</tspan> = 0.0325</text>
<g><text class="xu" transform="translate(759.5,612.8) rotate(-45)">CDHFD +PBS</text>
<text class="xu" transform="translate(818,612.8) rotate(-45)">CDHFD + E. c</text>
<text class="xu" transform="translate(876,612.8) rotate(-45)">CDHFD + P. d</text></g>

<!-- ================= PANEL d ================= -->
<text class="lab" x="0" y="740">d</text>
<!-- TG -->
<path class="ax" d="M105 809.6V1002.5M97 1002.5H299M97 809.6h8M97 873.9h8M97 938.2h8M134.7 1002.5v8M179.7 1002.5v8M224.3 1002.5v8M269 1002.5v8"/>
<text class="tk" x="87.6" y="815.6">120</text><text class="tk" x="87.6" y="879.9">80</text><text class="tk" x="87.6" y="944.2">40</text><text class="tk" x="87.6" y="1008.5">0</text>
<text class="ttl" transform="translate(11,909) rotate(-90)" dy="0.35em">Hepatic triglycerides</text>
<text class="ttl" transform="translate(35,911) rotate(-90)" dy="0.35em">(µg per mg of tissue)</text>
<g fill="#111"><use href="#C" xlink:href="#C" x="128" y="968.7"/><use href="#C" xlink:href="#C" x="140" y="970"/><use href="#C" xlink:href="#C" x="134" y="971.3"/><use href="#C" xlink:href="#C" x="124" y="972.6"/><use href="#C" xlink:href="#C" x="145" y="973.9"/></g>
<g fill="#5a5af0"><use href="#S" xlink:href="#S" x="178" y="892"/><use href="#S" xlink:href="#S" x="186" y="897.2"/><use href="#S" xlink:href="#S" x="172" y="902.4"/><use href="#S" xlink:href="#S" x="188" y="906.3"/><use href="#S" xlink:href="#S" x="180" y="910.2"/><use href="#S" xlink:href="#S" x="172" y="918"/><use href="#S" xlink:href="#S" x="186" y="921.9"/><use href="#S" xlink:href="#S" x="176" y="925.8"/><use href="#S" xlink:href="#S" x="170" y="933.6"/><use href="#S" xlink:href="#S" x="188" y="938.8"/><use href="#S" xlink:href="#S" x="178" y="942.7"/><use href="#S" xlink:href="#S" x="186" y="945.3"/><use href="#S" xlink:href="#S" x="180" y="955.7"/></g>
<g fill="#5aaaf4"><use href="#C" xlink:href="#C" x="215" y="882.9"/><use href="#C" xlink:href="#C" x="237" y="886.8"/><use href="#C" xlink:href="#C" x="222" y="892"/><use href="#C" xlink:href="#C" x="230" y="897.2"/><use href="#C" xlink:href="#C" x="216" y="903.7"/><use href="#C" xlink:href="#C" x="224" y="910.2"/><use href="#C" xlink:href="#C" x="233" y="915.4"/><use href="#C" xlink:href="#C" x="228" y="925.8"/><use href="#C" xlink:href="#C" x="234" y="940.1"/><use href="#C" xlink:href="#C" x="216" y="944"/></g>
<g fill="#ff6b10"><use href="#T" xlink:href="#T" x="267" y="936.2"/><use href="#T" xlink:href="#T" x="260" y="941.4"/><use href="#T" xlink:href="#T" x="275" y="946.6"/><use href="#T" xlink:href="#T" x="264" y="953.1"/><use href="#T" xlink:href="#T" x="279" y="957"/><use href="#T" xlink:href="#T" x="270" y="960.9"/><use href="#T" xlink:href="#T" x="261" y="966.1"/><use href="#T" xlink:href="#T" x="276" y="973.9"/><use href="#T" xlink:href="#T" x="262" y="980.4"/></g>
<path stroke="#5a5af0" stroke-width="2.5" fill="none" d="M179.7 910.2V936.2M173 910.2h13.4M173 936.2h13.4"/>
<path stroke="#5aaaf4" stroke-width="2.5" fill="none" d="M224.3 889.4V931M217.6 889.4h13.4M217.6 931h13.4"/>
<path stroke="#ff6b10" stroke-width="2.5" fill="none" d="M269 945.3V964.8M262.3 945.3h13.4M262.3 964.8h13.4"/>
<path class="mn" d="M121 970.8h28M164 923.2h31M209 910.2h30M254 954.9h30"/>
<path class="sig" d="M178.5 831.7H270M136.4 867.8H182M225 867.8H270"/>
<text class="pv" x="225" y="825.7"><tspan font-style="italic">P</tspan> &lt; 0.0001</text>
<text class="pv" x="154.3" y="862"><tspan font-style="italic">P</tspan> &lt; 0.0001</text>
<text class="pv" x="249.4" y="862"><tspan font-style="italic">P</tspan> &lt; 0.0001</text>
<g><text class="xl" transform="translate(143.7,1028.5) rotate(-45)">NCD</text>
<text class="xl" transform="translate(188.7,1028.5) rotate(-45)">CDHFD +PBS</text>
<text class="xl" transform="translate(233.3,1028.5) rotate(-45)">CDHFD + E. c</text>
<text class="xl" transform="translate(278,1028.5) rotate(-45)">CDHFD + P. d</text></g>
<!-- TBARS -->
<path class="ax" d="M429.5 810V1003M421 1003H624M421 810h8.5M421 874.3h8.5M421 938.7h8.5M460 1003v8M504.6 1003v8M549 1003v8M594 1003v8"/>
<text class="tk" x="413" y="816">12</text><text class="tk" x="413" y="880.3">8</text><text class="tk" x="413" y="944.7">4</text><text class="tk" x="413" y="1009">0</text>
<text class="ttl" transform="translate(348,909) rotate(-90)" dy="0.35em">Hepatic TBARs</text>
<text class="ttl" transform="translate(372.4,910) rotate(-90)" dy="0.35em">(nmol per mg of tissue)</text>
<g fill="#111"><use href="#C" xlink:href="#C" x="460" y="954.4"/><use href="#C" xlink:href="#C" x="452" y="972.6"/><use href="#C" xlink:href="#C" x="466" y="975.2"/><use href="#C" xlink:href="#C" x="458" y="979.1"/><use href="#C" xlink:href="#C" x="462" y="981.7"/></g>
<g fill="#5a5af0"><use href="#S" xlink:href="#S" x="505" y="880.3"/><use href="#S" xlink:href="#S" x="505" y="911.5"/><use href="#S" xlink:href="#S" x="496" y="925.8"/><use href="#S" xlink:href="#S" x="514" y="932.3"/><use href="#S" xlink:href="#S" x="503" y="944"/><use href="#S" xlink:href="#S" x="512" y="950.5"/><use href="#S" xlink:href="#S" x="496" y="954.4"/><use href="#S" xlink:href="#S" x="508" y="959.6"/><use href="#S" xlink:href="#S" x="500" y="963.5"/><use href="#S" xlink:href="#S" x="510" y="966.1"/><use href="#S" xlink:href="#S" x="498" y="970"/><use href="#S" xlink:href="#S" x="506" y="976.5"/><use href="#S" xlink:href="#S" x="503" y="983"/></g>
<g fill="#5aaaf4"><use href="#C" xlink:href="#C" x="549" y="884.2"/><use href="#C" xlink:href="#C" x="543" y="923.2"/><use href="#C" xlink:href="#C" x="556" y="929.7"/><use href="#C" xlink:href="#C" x="548" y="933.6"/><use href="#C" xlink:href="#C" x="541" y="944"/><use href="#C" xlink:href="#C" x="554" y="953.1"/><use href="#C" xlink:href="#C" x="546" y="960.9"/><use href="#C" xlink:href="#C" x="551" y="966.1"/></g>
<g fill="#ff6b10"><use href="#T" xlink:href="#T" x="588" y="951.8"/><use href="#T" xlink:href="#T" x="608" y="960.9"/><use href="#T" xlink:href="#T" x="596" y="966.1"/><use href="#T" xlink:href="#T" x="585" y="967.4"/><use href="#T" xlink:href="#T" x="600" y="970"/><use href="#T" xlink:href="#T" x="592" y="971.3"/><use href="#T" xlink:href="#T" x="604" y="972.6"/><use href="#T" xlink:href="#T" x="588" y="975.2"/><use href="#T" xlink:href="#T" x="596" y="977.8"/></g>
<path stroke="#111" stroke-width="2.5" fill="none" d="M460 962.2V983M453.5 962.2h13"/>
<path stroke="#5a5af0" stroke-width="2.5" fill="none" d="M504.6 920.6V970M498 920.6h13M498 970h13"/>
<path stroke="#5aaaf4" stroke-width="2.5" fill="none" d="M549 914.1V962.2M542.5 914.1h13M542.5 962.2h13"/>
<path stroke="#ff6b10" stroke-width="2.5" fill="none" d="M594 962.2V975.2M587.5 962.2h13M587.5 975.2h13"/>
<path class="mn" d="M446 972.6h28M489 947.9h31M534 938.8h30M579 969.2h30"/>
<path class="sig" d="M506.7 831H598.4M460 870H505.8M548.4 861.3H593"/>
<text class="pv" x="553.8" y="821.3"><tspan font-style="italic">P</tspan> = 0.0151</text>
<text class="pv" x="475.4" y="862"><tspan font-style="italic">P</tspan> = 0.0260</text>
<text class="pv" x="574.6" y="854.3"><tspan font-style="italic">P</tspan> = 0.0010</text>
<g><text class="xl" transform="translate(469,1029) rotate(-45)">NCD</text>
<text class="xl" transform="translate(513.6,1029) rotate(-45)">CDHFD +PBS</text>
<text class="xl" transform="translate(558,1029) rotate(-45)">CDHFD + E. c</text>
<text class="xl" transform="translate(603,1029) rotate(-45)">CDHFD + P. d</text></g>

<!-- ================= PANEL f ================= -->
<text class="lab" x="943" y="388">f</text>
<!-- TNF -->
<path class="ax" d="M1044 395V588M1036 588H1238M1036 395h8M1036 459.3h8M1036 523.7h8M1082 588v8M1140 588v8M1198 588v8"/>
<text class="tk" x="1026" y="401">300</text><text class="tk" x="1026" y="465.3">200</text><text class="tk" x="1026" y="529.7">100</text><text class="tk" x="1026" y="594">0</text>
<text class="ttl" transform="translate(968,495) rotate(-90)" dy="0.35em">Serum TNF-α (pg ml<tspan dy="-7" font-size="12">−1</tspan><tspan dy="7">)</tspan></text>
<g fill="#111"><use href="#C" xlink:href="#C" x="1076" y="462.4"/><use href="#C" xlink:href="#C" x="1090" y="464.8"/><use href="#C" xlink:href="#C" x="1076" y="482.8"/><use href="#C" xlink:href="#C" x="1090" y="494.8"/><use href="#C" xlink:href="#C" x="1082" y="539.4"/></g>
<g fill="#5a5af0"><use href="#S" xlink:href="#S" x="1140" y="425.1"/><use href="#S" xlink:href="#S" x="1134" y="441.9"/><use href="#S" xlink:href="#S" x="1152" y="447.9"/><use href="#S" xlink:href="#S" x="1144" y="456.4"/><use href="#S" xlink:href="#S" x="1134" y="462.4"/></g>
<g fill="#ff6b10"><use href="#T" xlink:href="#T" x="1186" y="464.8"/><use href="#T" xlink:href="#T" x="1206" y="466"/><use href="#T" xlink:href="#T" x="1192" y="472"/><use href="#T" xlink:href="#T" x="1205" y="486.4"/><use href="#T" xlink:href="#T" x="1198" y="543"/></g>
<path stroke="#111" stroke-width="2.5" fill="none" d="M1082 458.8V520.1M1075 458.8h14M1075 520.1h14"/>
<path stroke="#5a5af0" stroke-width="2.5" fill="none" d="M1140 433.5V461.2M1133 433.5h14M1133 461.2h14"/>
<path stroke="#ff6b10" stroke-width="2.5" fill="none" d="M1198 452.7V517.7M1191 452.7h14M1191 517.7h14"/>
<path class="mn" d="M1068 488.8h28M1126 446.7h28M1184 485.2h28"/>
<path class="sig" d="M1079 415.4H1136M1142 415.4H1199"/>
<text class="pv" x="1097" y="409.4"><tspan font-style="italic">P</tspan> = 0.0304</text>
<text class="pv" x="1187.6" y="409.4"><tspan font-style="italic">P</tspan> = 0.0446</text>
<g><text class="xl" transform="translate(1091,614) rotate(-45)">NCD</text>
<text class="xl" transform="translate(1149,614) rotate(-45)">CDHFD +PBS</text>
<text class="xl" transform="translate(1207,614) rotate(-45)">CDHFD + P. d</text></g>
<!-- IL-6 -->
<path class="ax" d="M1358 395V588M1350 588H1551M1350 395h8M1350 459.3h8M1350 523.7h8M1396 588v8M1454 588v8M1512 588v8"/>
<text class="tk" x="1340" y="401">30</text><text class="tk" x="1340" y="465.3">20</text><text class="tk" x="1340" y="529.7">10</text><text class="tk" x="1340" y="594">0</text>
<text class="ttl" transform="translate(1298,495) rotate(-90)" dy="0.35em">Serum IL-6 (pg ml<tspan dy="-7" font-size="12">−1</tspan><tspan dy="7">)</tspan></text>
<g fill="#111"><use href="#C" xlink:href="#C" x="1398" y="462.4"/><use href="#C" xlink:href="#C" x="1390" y="475.6"/><use href="#C" xlink:href="#C" x="1402" y="487.6"/><use href="#C" xlink:href="#C" x="1390" y="504.5"/><use href="#C" xlink:href="#C" x="1402" y="506.9"/></g>
<g fill="#5a5af0"><use href="#S" xlink:href="#S" x="1454" y="421.5"/><use href="#S" xlink:href="#S" x="1462" y="439.5"/><use href="#S" xlink:href="#S" x="1446" y="447.9"/><use href="#S" xlink:href="#S" x="1462" y="449.1"/><use href="#S" xlink:href="#S" x="1452" y="464.8"/></g>
<g fill="#ff6b10"><use href="#T" xlink:href="#T" x="1512" y="449.1"/><use href="#T" xlink:href="#T" x="1512" y="464.8"/><use href="#T" xlink:href="#T" x="1500" y="469.6"/><use href="#T" xlink:href="#T" x="1520" y="481.6"/><use href="#T" xlink:href="#T" x="1512" y="526.1"/></g>
<path stroke="#111" stroke-width="2.5" fill="none" d="M1396 469.1V506.9M1389 469.1h14M1389 506.9h14"/>
<path stroke="#5a5af0" stroke-width="2.5" fill="none" d="M1454 433V461.2M1447 433h14M1447 461.2h14"/>
<path stroke="#ff6b10" stroke-width="2.5" fill="none" d="M1512 448.6V506.9M1505 448.6h14M1505 506.9h14"/>
<path class="mn" d="M1382 488.1h28M1440 446.7h28M1498 478h28"/>
<path class="sig" d="M1395 413H1452M1459 413H1515"/>
<text class="pv" x="1411" y="405.8"><tspan font-style="italic">P</tspan> = 0.0119</text>
<text class="pv" x="1498" y="405.8"><tspan font-style="italic">P</tspan> = 0.0442</text>
<g><text class="xl" transform="translate(1405,614) rotate(-45)">NCD</text>
<text class="xl" transform="translate(1463,614) rotate(-45)">CDHFD +PBS</text>
<text class="xl" transform="translate(1521,614) rotate(-45)">CDHFD + P. d</text></g>

<!-- ================= PANEL g ================= -->
<text class="lab" x="657" y="740">g</text>
<g style="font-size:18px;text-anchor:middle">
<text x="795" y="769">NCD</text>
<text x="1017.8" y="769">CDHFD + PBS</text>
<text x="1234" y="769">CDHFD + <tspan font-style="italic">E. c</tspan></text>
<text x="1457" y="769">CDHFD + <tspan font-style="italic">P. d</tspan></text>
</g>
<!-- livers -->
<path d="M770,835 C775,815 800,812 815,818 C832,822 836,845 828,860 C840,870 838,885 832,895 C828,905 815,910 808,900 C795,905 780,898 772,888 C758,880 750,860 756,848 C758,842 765,838 770,835Z" fill="url(#lvN)"/>
<path d="M790,840 C800,832 812,835 818,845 M795,870 C805,880 815,878 822,870" stroke="#e88a62" stroke-width="2" fill="none" opacity="0.7"/>
<ellipse cx="806" cy="830" rx="4" ry="2" fill="#f6d2c0" opacity="0.8"/>
<ellipse cx="785" cy="850" rx="3" ry="1.5" fill="#f6d2c0" opacity="0.7"/>
<path d="M945,830 C950,805 985,795 1015,800 C1030,793 1060,795 1070,812 C1085,815 1112,830 1110,850 C1100,860 1080,862 1070,860 C1070,880 1060,900 1045,915 C1020,925 990,922 970,910 C945,895 932,860 945,830Z" fill="url(#lvP)"/>
<path d="M1030,805 C1028,830 1035,850 1030,880 M1030,860 C1040,870 1060,865 1068,858" stroke="#cf9a8c" stroke-width="1.5" fill="none"/>
<ellipse cx="995" cy="815" rx="3" ry="4" fill="#fff" opacity="0.8"/>
<path d="M1028,812 l3,8 M1032,818 l4,6" stroke="#d02030" stroke-width="1.2"/>
<path d="M1180,840 C1190,820 1220,812 1245,812 C1270,808 1300,825 1305,855 C1308,885 1290,910 1255,912 C1230,914 1200,912 1185,895 C1170,880 1168,858 1180,840Z" fill="url(#lvE)"/>
<path d="M1238,860 C1240,880 1238,895 1240,905" stroke="#b07a6c" stroke-width="2" fill="none"/>
<circle cx="1283" cy="880" r="2" fill="#d0202a"/>
<path d="M1420,860 C1418,840 1428,815 1435,810 C1440,825 1460,830 1480,840 C1500,855 1510,880 1505,900 C1495,915 1470,920 1445,915 C1415,910 1400,890 1410,870 Z" fill="url(#lvD)"/>
<path d="M1450,850 C1452,865 1450,875 1455,885" stroke="#c8202a" stroke-width="1.5" fill="none"/>
<!-- H&E -->
<rect x="692" y="940" width="217" height="168" fill="url(#dense)"/>
<rect x="913" y="940" width="215" height="168" fill="url(#fat)"/>
<rect x="1132" y="940" width="217" height="168" fill="url(#fat)"/>
<rect x="1352" y="940" width="214" height="168" fill="url(#dense)"/>
<path d="M797,975 C803,978 805,990 800,1000 C795,995 792,985 797,975Z" fill="#fff"/>
<path d="M808,1028 C820,1022 835,1024 845,1020 C846,1040 848,1060 852,1070 C840,1076 820,1074 812,1065 C800,1055 800,1040 808,1028Z" fill="#fff"/>
<path d="M1445,1020 L1452,1028 L1462,1030 L1455,1036 L1460,1046 L1450,1040 L1442,1048 L1444,1036 L1436,1032 L1446,1030Z" fill="#fff"/>
<ellipse cx="1228" cy="1035" rx="9" ry="12" fill="#fff" stroke="#d0407a" stroke-width="1.5"/>
<g fill="#000">
<rect x="863.5" y="1097.5" width="32.5" height="6"/>
<rect x="1085" y="1097.5" width="31" height="6"/>
<rect x="1306" y="1097.5" width="32" height="6"/>
<rect x="1525" y="1097.5" width="32" height="6"/>
</g>
<text transform="translate(669.5,1030) rotate(-90)" dy="0.35em" style="font-size:17.5px;text-anchor:middle;letter-spacing:0.5px">H&amp;E staining</text>
</svg>
</body>
</html>
